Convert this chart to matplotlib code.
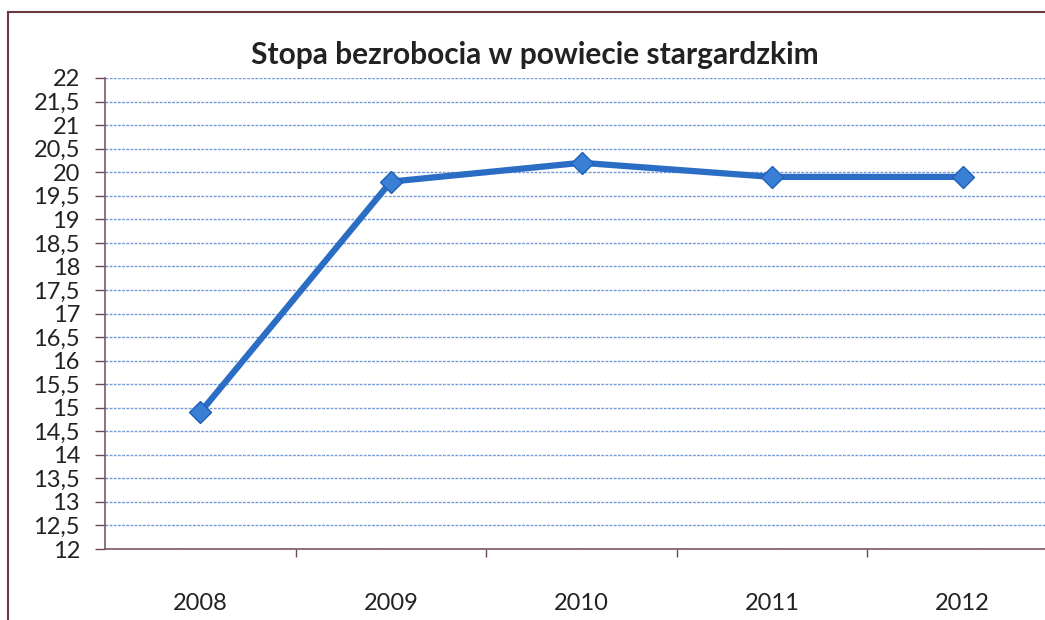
import matplotlib.pyplot as plt
from matplotlib.ticker import FuncFormatter, FixedLocator, MultipleLocator
import matplotlib.patches as mpatches

lata = ['2008', '2009', '2010', '2011', '2012']
stopa = [14.9, 19.8, 20.2, 19.9, 19.9]
tytul = 'Stopa bezrobocia w powiecie stargardzkim'

plt.rcParams['font.family'] = ['Lato', 'DejaVu Sans']

fig = plt.figure(figsize=(10.45, 6.2), dpi=100)
W, H = 1045, 620
# os wykresu wystaje poza prawa krawedz (skan jest przyciety)
ax = fig.add_axes([105 / W, 1 - 549 / H, (1058 - 105) / W, (549 - 78) / H])

x = list(range(len(lata)))
ax.plot(x, stopa, color='#2b6cc4', lw=4.5, marker='D', ms=11,
        markerfacecolor='#3a7fd6', markeredgecolor='#1f5fb5', zorder=3)

ax.set_ylim(12, 22)
ax.set_xlim(-0.5, len(lata) - 0.5)
ax.yaxis.set_major_locator(MultipleLocator(0.5))
ax.yaxis.set_major_formatter(FuncFormatter(lambda v, p: ('%g' % v).replace('.', ',')))
ax.grid(axis='y', color='#4f80cf', lw=1.0, ls=(0, (2, 1)), alpha=0.8)

ax.set_xticks(x)
ax.set_xticklabels(lata)
ax.xaxis.set_minor_locator(FixedLocator([i + 0.5 for i in range(len(lata))]))
ax.tick_params(axis='x', which='major', length=0, pad=32, labelsize=17, colors='#222222')
ax.tick_params(axis='x', which='minor', length=6, width=1, color='#6a4a50', direction='out')
ax.tick_params(axis='y', length=7, width=1, color='#6a4a50', pad=11, labelsize=17,
               labelcolor='#222222')

for s in ['top', 'right']:
    ax.spines[s].set_visible(False)
for s in ['left', 'bottom']:
    ax.spines[s].set_color('#7a5a60')
    ax.spines[s].set_linewidth(1.2)

fig.text(535 / W, 1 - 55 / H, tytul, ha='center', va='center',
         fontsize=21.5, fontweight='bold', color='#222222')

# ramka ze skanu
fig.patches.append(mpatches.Rectangle((8 / W, -0.1), 1.2, 1 - 12 / H + 0.1,
                                      transform=fig.transFigure, fill=False,
                                      ec='#6b3a40', lw=1.5))

fig.savefig('out.png', dpi=100)
